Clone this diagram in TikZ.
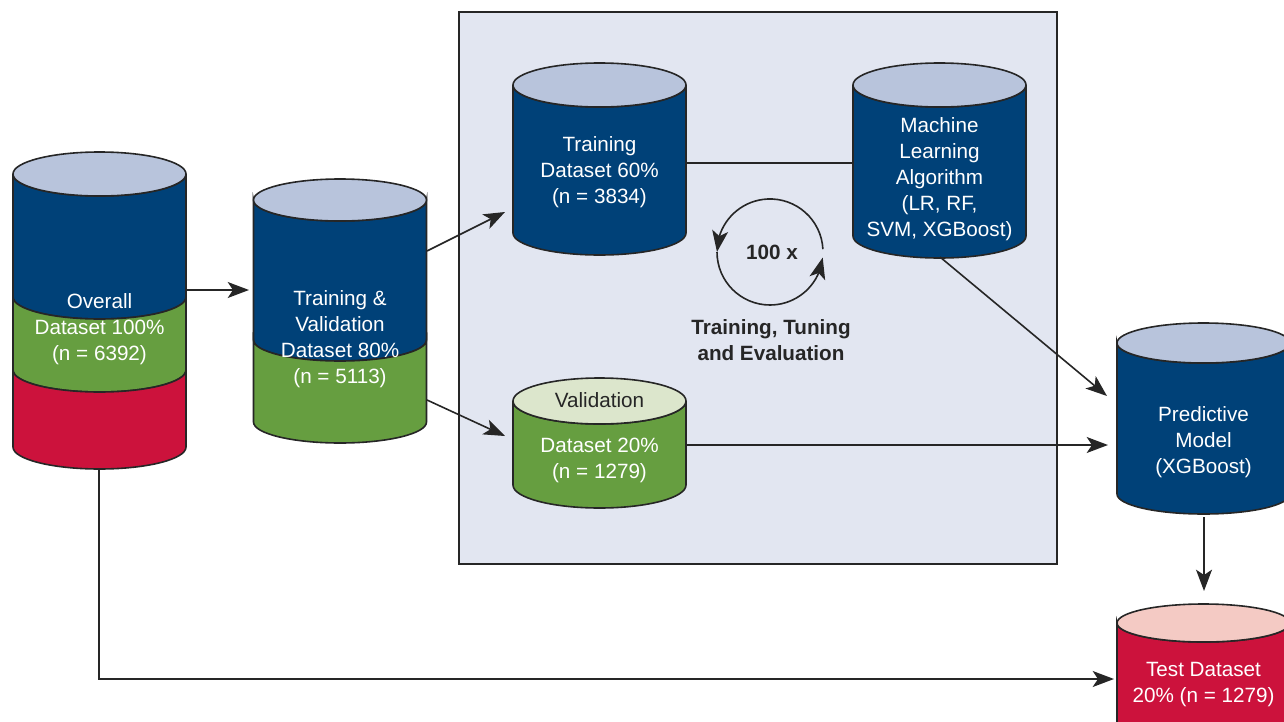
\documentclass[tikz,border=0pt]{standalone}
\usepackage{fontspec}
\setmainfont{Liberation Sans}
\usetikzlibrary{arrows.meta,bending}

\definecolor{navy}{RGB}{0,65,120}
\definecolor{navytop}{RGB}{184,196,220}
\definecolor{leaf}{RGB}{102,158,64}
\definecolor{leaftop}{RGB}{220,230,204}
\definecolor{crimson}{RGB}{204,18,60}
\definecolor{crimsontop}{RGB}{244,202,196}
\definecolor{panel}{RGB}{226,230,241}

% one coloured band of a drum: cx, rx, ry, upper y, lower y, colour
\newcommand{\drumband}[6]{%
  \draw[fill=#6, outline] ({#1-#2},#4) -- ({#1-#2},#5)
    arc[start angle=180, end angle=0, x radius=#2, y radius=#3]
    -- ({#1+#2},#4)
    arc[start angle=0, end angle=180, x radius=#2, y radius=#3] -- cycle;}
% lid of a drum: cx, rx, ry, y, colour
\newcommand{\drumlid}[5]{%
  \draw[fill=#5, outline] (#1,#4) ellipse[x radius=#2, y radius=#3];}

\tikzset{
  outline/.style={draw=black!85, line width=1.2pt},
  wire/.style={draw=black!85, line width=1.2pt},
  arrowed/.style={wire, -{Stealth[length=16pt, width=12pt, inset=4pt]}},
  label/.style={text=white, align=center, font=\fontsize{15.5}{19.5}\selectfont, inner sep=0pt},
  darklabel/.style={label, text=black!85},
  boldlabel/.style={darklabel, font=\fontsize{15.5}{19.5}\selectfont\bfseries},
}

\begin{document}
\begin{tikzpicture}[x=0.75pt, y=-0.75pt]
\useasboundingbox (0,0) rectangle (1284,721);
\clip (0,0) rectangle (1284,721);

% shaded panel for the inner loop
\draw[fill=panel, line width=1.4pt, draw=black!85] (459,12) rectangle (1057,564);

% overall dataset
\drumband{99.5}{86.5}{22}{174}{297}{navy}
\drumband{99.5}{86.5}{22}{297}{370}{leaf}
\drumband{99.5}{86.5}{22}{370}{447}{crimson}
\drumlid{99.5}{86.5}{22}{174}{navytop}
\node[label] (overall) at (99.5,329) {Overall\\Dataset 100\%\\(n = 6392)};

% training and validation dataset
\drumband{340}{86.5}{21}{200}{340}{navy}
\drumband{340}{86.5}{21}{340}{422}{leaf}
\drumlid{340}{86.5}{21}{200}{navytop}
\node[label] (trainval) at (340,339) {Training \&\\Validation\\Dataset 80\%\\(n = 5113)};

% training dataset
\drumband{599.5}{86.5}{22}{85}{233}{navy}
\drumlid{599.5}{86.5}{22}{85}{navytop}
\node[label] (train) at (599.5,172) {Training\\Dataset 60\%\\(n = 3834)};

% algorithm
\drumband{939.5}{86.5}{22}{85}{236}{navy}
\drumlid{939.5}{86.5}{22}{85}{navytop}
\node[label] (algo) at (939.5,179) {Machine\\Learning\\Algorithm\\(LR, RF,\\SVM, XGBoost)};

% validation dataset
\drumband{599.5}{86.5}{23}{401}{485}{leaf}
\drumlid{599.5}{86.5}{23}{401}{leaftop}
\node[darklabel] (valtop) at (599.5,400) {Validation};
\node[label] (val) at (599.5,460) {Dataset 20\%\\(n = 1279)};

% predictive model
\drumband{1203.5}{86.5}{20}{343}{494}{navy}
\drumlid{1203.5}{86.5}{20}{343}{navytop}
\node[label] (model) at (1203.5,442) {Predictive\\Model\\(XGBoost)};

% test dataset
\drumband{1203.5}{86.5}{19}{623}{760}{crimson}
\drumlid{1203.5}{86.5}{19}{623}{crimsontop}
\node[label] (test) at (1203.5,685) {Test Dataset\\20\% (n = 1279)};

% repeat loop
\node[boldlabel] (reps) at (772,252) {100 x};
\node[boldlabel] (loop) at (771,340) {Training, Tuning\\and Evaluation};
\coordinate (loopR) at (822.9,249.2);
\coordinate (loopL) at (717,252);
\draw[arrowed] (loopR) arc[start angle=-3, end angle=-180, radius=53];
\draw[arrowed] (loopL) arc[start angle=180, end angle=6, radius=53];

% connector end points
\coordinate (ovOut)   at (186,290);
\coordinate (tvIn)    at (249,290);
\coordinate (tvOutA)  at (427,251);
\coordinate (trIn)    at (505,212);
\coordinate (tvOutB)  at (427,400);
\coordinate (vaIn)    at (505,436);
\coordinate (trOut)   at (686,163);
\coordinate (alIn)    at (853,163);
\coordinate (alOut)   at (940,257);
\coordinate (moInA)   at (1107,396);
\coordinate (vaOut)   at (686,445);
\coordinate (moInB)   at (1108,445);
\coordinate (moOut)   at (1204,517);
\coordinate (teIn)    at (1204,591);
\coordinate (ovDown)  at (99,468);
\coordinate (teInL)   at (1114,679);

% connectors
\draw[arrowed] (ovOut) -- (tvIn);
\draw[arrowed] (tvOutA) -- (trIn);
\draw[arrowed] (tvOutB) -- (vaIn);
\draw[wire] (trOut) -- (alIn);
\draw[arrowed] (alOut) -- (moInA);
\draw[arrowed] (vaOut) -- (moInB);
\draw[arrowed] (moOut) -- (teIn);
\draw[arrowed] (ovDown) |- (teInL);
\end{tikzpicture}
\end{document}
